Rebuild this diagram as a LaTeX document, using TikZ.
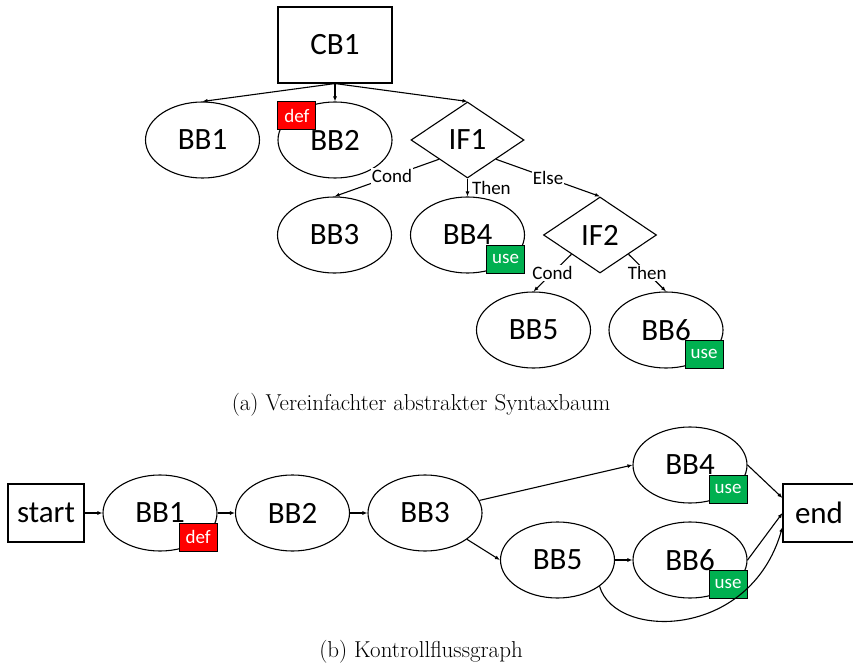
\documentclass[tikz,border=0pt]{standalone}
\usepackage{fontspec}
\newfontfamily\calibri{Carlito}
\usetikzlibrary{arrows.meta}
\usetikzlibrary{shapes.geometric}
\usetikzlibrary{positioning}
\definecolor{defred}{HTML}{FF0000}
\definecolor{usegreen}{HTML}{00B050}
\newcommand{\bigfont}{\calibri\fontsize{31}{36}\selectfont}
\newcommand{\smallfont}{\calibri\fontsize{19}{22}\selectfont}

\begin{document}
\begin{tikzpicture}[
	x=1pt, y=1pt, line width=1.1pt,
  > = {Latex[length=5pt,width=4pt]},
  bb/.style = {draw,ellipse,minimum width=114pt,minimum height=76pt,inner sep=0pt,font=\bigfont},
  blk/.style = {draw,rectangle,inner sep=0pt,font=\bigfont},
  branch/.style = {draw,diamond,minimum width=113pt,minimum height=76pt,inner sep=0pt,font=\bigfont},
  lbl/.style = {fill=white,inner sep=1pt,font=\smallfont},
  defmark/.style = {draw,line width=0.8pt,fill=defred,text=white,minimum width=38pt,minimum height=28pt,inner sep=0pt,font=\smallfont},
  usemark/.style = {draw,line width=0.8pt,fill=usegreen,text=white,minimum width=38pt,minimum height=28pt,inner sep=0pt,font=\smallfont},
  caption/.style = {font=\fontsize{23}{27}\selectfont}
  ]
	\useasboundingbox (0,0) rectangle (853,665);

	% (a) Syntaxbaum
	\node[blk,minimum width=114pt,minimum height=76pt] (cb1) at (335,620) {CB1};

	\node[bb] (a1) at (202.5,525) {BB1};
	\node[bb] (a2) at (335,525) {BB2};
	\node[branch] (if1) at (467.5,525) {IF1};
	\node[bb] (a3) at (334.5,430) {BB3};
	\node[bb] (a4) at (467.5,430) {BB4};
	\node[branch] (if2) at (600,430) {IF2};
	\node[bb] (a5) at (533.5,335) {BB5};
	\node[bb] (a6) at (666,335) {BB6};

	\node[defmark,anchor=north west] (a2def) at (a2.west |- a2.north) {def};
	\node[usemark,anchor=south east] (a4use) at (a4.east |- a4.south) {use};
	\node[usemark,anchor=south east] (a6use) at (a6.east |- a6.south) {use};

	\draw[->] (cb1.south) -- (a1.north);
	\draw[->] (cb1.south) -- (a2.north);
	\draw[->] (cb1.south) -- (if1.north);

	\draw[->] (if1.south west) -- node[lbl,pos=.45] {Cond} (a3.north);
	\draw[->] (if1.south) -- node[right,inner sep=4pt,font=\smallfont] {Then} (a4.north);
	\draw[->] (if1.south east) -- node[lbl] {Else} (if2.north);
	\draw[->] (if2.south west) -- node[lbl] {Cond} (a5.north);
	\draw[->] (if2.south east) -- node[lbl] {Then} (a6.north);

	\node[caption] (capa) at (421,260) {(a) Vereinfachter abstrakter Syntaxbaum};

	% (b) Kontrollflussgraph
	\node[blk,minimum width=76pt,minimum height=58pt] (start) at (46,152) {start};
	\node[blk,minimum width=72pt,minimum height=58pt] (end) at (819,152) {end};

	\node[bb] (b1) at (160,152) {BB1};
	\node[bb] (b2) at (292.5,152) {BB2};
	\node[bb] (b3) at (425,152) {BB3};
	\node[bb] (b4) at (690,200) {BB4};
	\node[bb] (b5) at (557.5,105) {BB5};
	\node[bb] (b6) at (690,105) {BB6};

	\node[defmark,anchor=south east] (b1def) at (b1.east |- b1.south) {def};
	\node[usemark,anchor=south east] (b4use) at (b4.east |- b4.south) {use};
	\node[usemark,anchor=south east] (b6use) at (b6.east |- b6.south) {use};

	\draw[->] (start) -- (b1);
	\draw[->] (b1) -- (b2);
	\draw[->] (b2) -- (b3);
	\draw[->] (b3) -- (b4.west);
	\draw[->] (b3) -- (b5.west);
	\draw[->] (b5) -- (b6);
	\draw[->] (b4.east) -- ([yshift=15pt]end.west);
	\draw[->] (b6.east) -- (end.west);
	\draw[->] (b5.-32) .. controls (615,25) and (750,25) .. ([yshift=-14pt]end.west);

	\node[caption] (capb) at (421,13) {(b) Kontrollflussgraph};

\end{tikzpicture}
\end{document}
